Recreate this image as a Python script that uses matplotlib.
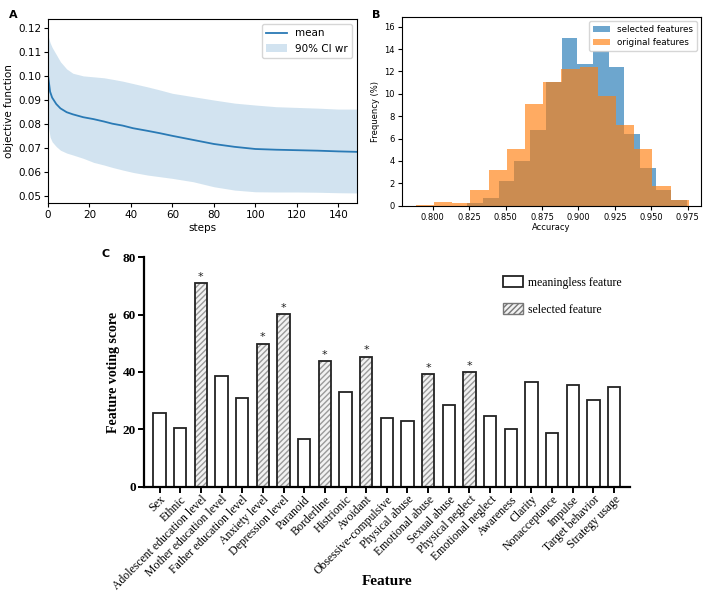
import numpy as np
import matplotlib
matplotlib.use('Agg')
import matplotlib.pyplot as plt
from matplotlib.patches import Patch

# panel A: optimisation trace
steps = [0, 1, 2, 4, 6, 9, 12, 17, 22, 27, 31, 36, 41, 48, 54, 60, 70, 80, 90, 100, 110, 120, 130, 140, 149]
mean_obj = [0.1004, 0.0935, 0.0910, 0.0883, 0.0865, 0.0849, 0.0840, 0.0828, 0.0820, 0.0810, 0.0801, 0.0793,
            0.0782, 0.0771, 0.0761, 0.0750, 0.0733, 0.0716, 0.0704, 0.0695, 0.0692, 0.0690, 0.0688, 0.0685, 0.0683]
ci_upper = [0.1170, 0.1140, 0.1120, 0.1090, 0.1060, 0.1030, 0.1012, 0.1001, 0.0997, 0.0993, 0.0987, 0.0979,
            0.0969, 0.0955, 0.0942, 0.0928, 0.0914, 0.0900, 0.0887, 0.0879, 0.0872, 0.0869, 0.0866, 0.0862, 0.0862]
ci_lower = [0.0800, 0.0745, 0.0725, 0.0705, 0.0690, 0.0678, 0.0670, 0.0656, 0.0639, 0.0628, 0.0618, 0.0607,
            0.0597, 0.0586, 0.0579, 0.0572, 0.0558, 0.0537, 0.0523, 0.0516, 0.0515, 0.0515, 0.0514, 0.0512, 0.0511]

# panel B: accuracy histograms
sel_range = (0.8238, 0.9745)
sel_freq = [0.25, 0.7, 2.2, 4.0, 6.8, 11.1, 15.0, 12.7, 13.8, 12.4, 6.4, 3.4, 1.4, 0.5]
orig_range = (0.7885, 0.9757)
orig_freq = [0.1, 0.3, 0.2, 1.4, 3.2, 5.1, 9.1, 11.1, 12.2, 12.4, 9.8, 7.2, 5.1, 1.8, 0.5]

# panel C: feature voting
features = ['Sex', 'Ethnic', 'Adolescent education level', 'Mother education level',
            'Father education level', 'Anxiety level', 'Depression level', 'Paranoid',
            'Borderline', 'Histrionic', 'Avoidant', 'Obsessive-compulsive', 'Physical abuse',
            'Emotional abuse', 'Sexual abuse', 'Physical neglect', 'Emotional neglect',
            'Awareness', 'Clarity', 'Nonacceptance', 'Impulse', 'Target behavior', 'Strategy usage']
scores = [25.6, 20.4, 71.1, 38.5, 31.1, 49.9, 60.1, 16.8, 43.7, 32.9, 45.4, 24.1, 22.8,
          39.2, 28.4, 40.1, 24.6, 20.1, 36.6, 18.6, 35.6, 30.1, 34.7]
selected = ['Adolescent education level', 'Anxiety level', 'Depression level', 'Borderline',
            'Avoidant', 'Emotional abuse', 'Physical neglect']

fig = plt.figure(figsize=(7.08, 5.96), dpi=100)

# ---- A
axA = fig.add_axes([0.0678, 0.6594, 0.4364, 0.3087])
axA.fill_between(steps, ci_lower, ci_upper, color='#1f77b4', alpha=0.2, lw=0, label='90% CI wr')
axA.plot(steps, mean_obj, color='#2a7ab5', lw=1.3, label='mean')
axA.set_xlim(0, 149)
axA.set_ylim(0.0469, 0.1239)
axA.set_xticks([0, 20, 40, 60, 80, 100, 120, 140])
axA.set_yticks([0.05, 0.06, 0.07, 0.08, 0.09, 0.10, 0.11, 0.12])
axA.tick_params(labelsize=7.5, length=3, pad=2)
axA.set_xlabel('steps', fontsize=7.5, labelpad=2)
axA.set_ylabel('objective function', fontsize=7.5, labelpad=3)
h, l = axA.get_legend_handles_labels()
axA.legend(h[::-1], l[::-1], loc='upper right', fontsize=7.5)
fig.text(0.012, 0.975, 'A', fontsize=8, fontweight='bold', va='center')

# ---- B
axB = fig.add_axes([0.5678, 0.6549, 0.4223, 0.3166])
sel_edges = np.linspace(sel_range[0], sel_range[1], len(sel_freq) + 1)
orig_edges = np.linspace(orig_range[0], orig_range[1], len(orig_freq) + 1)
axB.hist(sel_edges[:-1], bins=sel_edges, weights=sel_freq, color='#1f77b4', alpha=0.65,
         label='selected features')
axB.hist(orig_edges[:-1], bins=orig_edges, weights=orig_freq, color='#ff7f0e', alpha=0.65,
         label='original features')
axB.set_xlim(0.779, 0.984)
axB.set_ylim(0, 16.87)
axB.set_xticks([0.800, 0.825, 0.850, 0.875, 0.900, 0.925, 0.950, 0.975])
axB.set_xticklabels(['%.3f' % t for t in axB.get_xticks()])
axB.set_yticks(range(0, 17, 2))
axB.tick_params(labelsize=6, length=3, pad=2)
axB.set_xlabel('Accuracy', fontsize=6, labelpad=1)
axB.set_ylabel('Frequency (%)', fontsize=6, labelpad=3)
axB.legend(loc='upper right', fontsize=6.3)
fig.text(0.525, 0.975, 'B', fontsize=8, fontweight='bold', va='center')

# ---- C
axC = fig.add_axes([0.2038, 0.1834, 0.686, 0.3849])
xpos = np.arange(len(features))
is_sel = [f in selected for f in features]
for x, s, sel in zip(xpos, scores, is_sel):
    if sel:
        axC.bar(x, s, width=0.6, facecolor='#f2f2f2', edgecolor='#9a9a9a', hatch='//////', lw=0)
        axC.text(x, s + 0.4, '*', ha='center', va='bottom', fontsize=8, color='#222222')
    axC.bar(x, s, width=0.6, facecolor='none', edgecolor='#222222', lw=1.3)
axC.set_xlim(-0.74, len(features) - 1 + 0.77)
axC.set_ylim(0, 80)
axC.set_yticks([0, 20, 40, 60, 80])
axC.set_xticks(xpos)
axC.set_xticklabels(features, rotation=45, ha='right', rotation_mode='anchor',
                    fontsize=8.5, family='Liberation Serif')
for t in axC.get_yticklabels():
    t.set_family('Liberation Serif')
    t.set_fontweight('bold')
    t.set_fontsize(9.5)
axC.spines['top'].set_visible(False)
axC.spines['right'].set_visible(False)
axC.spines['left'].set_linewidth(1.6)
axC.spines['bottom'].set_linewidth(1.6)
axC.tick_params(width=1.4, length=4, pad=2)
axC.tick_params(axis='x', pad=1)
axC.set_ylabel('Feature voting score', fontsize=10, fontweight='bold', family='Liberation Serif', labelpad=2)
axC.set_xlabel('Feature', fontsize=11, fontweight='bold', family='Liberation Serif')
axC.xaxis.set_label_coords(0.5, -0.415)
axC.xaxis.label.set_va('center')
leg_handles = [Patch(facecolor='white', edgecolor='#222222', lw=1.3),
               Patch(facecolor='#f2f2f2', edgecolor='#777777', hatch='//////', lw=1.0)]
axC.legend(leg_handles, ['meaningless feature', 'selected feature'], loc='upper left',
           bbox_to_anchor=(0.738, 0.918), frameon=False, borderpad=0, borderaxespad=0,
           handlelength=1.7, handleheight=1.1, handletextpad=0.4, labelspacing=1.2,
           prop={'family': 'Liberation Serif', 'size': 8.5})
fig.text(0.144, 0.574, 'C', fontsize=8, fontweight='bold', va='center')

fig.savefig('out.png', dpi=100)
